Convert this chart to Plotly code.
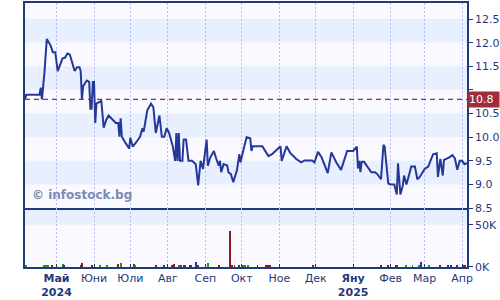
import plotly.graph_objects as go

# ---------------- data ----------------
price_dates = [
    "2024-04-05", "2024-04-06", "2024-04-17", "2024-04-18", "2024-04-19", "2024-04-21",
    "2024-04-23", "2024-04-26", "2024-04-28", "2024-04-30", "2024-05-02", "2024-05-04",
    "2024-05-06", "2024-05-08", "2024-05-10", "2024-05-12", "2024-05-16", "2024-05-18",
    "2024-05-20", "2024-05-21", "2024-05-22", "2024-05-23", "2024-05-26", "2024-05-28",
    "2024-05-29", "2024-05-30", "2024-05-31", "2024-06-01", "2024-06-02", "2024-06-03",
    "2024-06-06", "2024-06-07", "2024-06-09", "2024-06-11", "2024-06-13", "2024-06-15",
    "2024-06-19", "2024-06-21", "2024-06-22", "2024-06-23", "2024-06-24", "2024-06-27",
    "2024-06-30", "2024-07-01", "2024-07-03", "2024-07-06", "2024-07-09", "2024-07-11",
    "2024-07-12", "2024-07-15", "2024-07-18", "2024-07-20", "2024-07-22", "2024-07-25",
    "2024-07-27", "2024-07-29", "2024-07-31", "2024-08-02", "2024-08-05", "2024-08-07",
    "2024-08-08", "2024-08-09", "2024-08-10", "2024-08-11", "2024-08-13", "2024-08-14",
    "2024-08-16", "2024-08-18", "2024-08-21", "2024-08-24", "2024-08-26", "2024-08-28",
    "2024-08-30", "2024-09-02", "2024-09-03", "2024-09-05", "2024-09-08", "2024-09-10",
    "2024-09-12", "2024-09-13", "2024-09-14", "2024-09-16", "2024-09-19", "2024-09-20",
    "2024-09-22", "2024-09-24", "2024-09-27", "2024-09-29", "2024-09-30", "2024-10-03",
    "2024-10-05", "2024-10-08", "2024-10-09", "2024-10-10", "2024-10-18", "2024-10-23",
    "2024-10-26", "2024-11-02", "2024-11-03", "2024-11-07", "2024-11-10", "2024-11-15",
    "2024-11-19", "2024-11-22", "2024-11-28", "2024-11-30", "2024-12-03", "2024-12-06",
    "2024-12-11", "2024-12-14", "2024-12-18", "2024-12-22", "2024-12-27", "2025-01-01",
    "2025-01-04", "2025-01-05", "2025-01-06", "2025-01-07", "2025-01-08", "2025-01-10",
    "2025-01-16", "2025-01-19", "2025-01-21", "2025-01-24", "2025-01-26", "2025-01-27",
    "2025-01-30", "2025-02-01", "2025-02-04", "2025-02-06", "2025-02-07", "2025-02-09",
    "2025-02-11", "2025-02-12", "2025-02-14", "2025-02-18", "2025-02-21", "2025-02-23",
    "2025-02-25", "2025-03-01", "2025-03-04", "2025-03-08", "2025-03-11", "2025-03-12",
    "2025-03-14", "2025-03-16", "2025-03-17", "2025-03-21", "2025-03-24", "2025-03-26",
    "2025-03-28", "2025-03-30", "2025-04-01", "2025-04-03", "2025-04-05",
]
price_values = [
    10.8, 10.9, 10.9, 11.05, 10.8, 11.35,
    12.08, 11.95, 11.8, 11.8, 11.4, 11.53,
    11.67, 11.68, 11.77, 11.75, 11.4, 11.48,
    11.48, 11.4, 10.8, 11.08, 11.2, 11.17,
    10.6, 10.6, 11.17, 11.17, 10.3, 10.71,
    10.77, 10.77, 10.2, 10.36, 10.46, 10.4,
    10.3, 10.3, 10.01, 10.4, 10.01, 9.88,
    9.76, 9.99, 9.8, 9.9, 10.01, 10.19,
    10.12, 10.57, 10.71, 10.63, 10.09, 10.46,
    10.01, 10.01, 10.19, 10.09, 9.81, 9.5,
    10.09, 9.5, 10.09, 9.5, 9.5, 9.95,
    9.95, 9.5, 9.5, 9.43, 8.98, 9.5,
    9.33, 9.95, 9.4, 9.57, 9.71, 9.54,
    9.4, 9.5, 9.26, 9.43, 9.4, 9.26,
    9.22, 9.05, 9.3, 9.64, 9.47, 9.8,
    10.0, 9.98, 9.71, 9.81, 9.81, 9.6,
    9.64, 9.81, 9.5, 9.81, 9.67, 9.54,
    9.47, 9.51, 9.51, 9.47, 9.69, 9.57,
    9.24, 9.68, 9.47, 9.31, 9.71, 9.71,
    9.8, 9.34, 9.5, 9.26, 9.48, 9.48,
    9.26, 9.26, 9.22, 9.11, 9.84, 9.8,
    9.02, 9.0, 9.0, 8.79, 9.45, 8.79,
    8.98, 9.19, 9.0, 9.38, 9.38, 9.11,
    9.16, 9.33, 9.38, 9.64, 9.66, 9.16,
    9.54, 9.19, 9.52, 9.57, 9.62, 9.55,
    9.31, 9.5, 9.5, 9.43, 9.45,
]

vol_dates = [
    "2024-04-06", "2024-04-21", "2024-04-22", "2024-04-24", "2024-04-27", "2024-05-06",
    "2024-05-07", "2024-05-21", "2024-05-22", "2024-05-30", "2024-06-06", "2024-06-12",
    "2024-06-21", "2024-06-23", "2024-07-04", "2024-07-05", "2024-07-22", "2024-07-29",
    "2024-08-04", "2024-08-06", "2024-08-10", "2024-08-11", "2024-08-12", "2024-08-14",
    "2024-08-15", "2024-08-19", "2024-08-20", "2024-08-24", "2024-08-26", "2024-09-03",
    "2024-09-12", "2024-09-21", "2024-09-23", "2024-09-25", "2024-09-29", "2024-10-02",
    "2024-10-04", "2024-10-06", "2024-10-14", "2024-10-21", "2024-10-23", "2024-10-24",
    "2024-11-29", "2025-01-24", "2025-01-30", "2025-02-05", "2025-02-06", "2025-02-14",
    "2025-02-19", "2025-02-24", "2025-02-26", "2025-03-05", "2025-03-14", "2025-03-20",
    "2025-03-23", "2025-03-28", "2025-04-02", "2025-04-03",
]
vol_values = [
    2700, 1500, 1500, 1500, 1500, 3500,
    2000, 1500, 4700, 1500, 1500, 1500,
    3500, 4700, 3500, 1500, 1500, 1500,
    1500, 3500, 1500, 2700, 1500, 2300,
    2700, 1500, 2700, 5800, 2700, 5000,
    1500, 42000, 1500, 2700, 1500, 1500,
    1500, 1500, 1500, 1500, 1500, 1500,
    1500, 1500, 1500, 1500, 1500, 1500,
    1500, 1500, 5800, 1500, 1500, 1500,
    2700, 2700, 2700, 1500,
]
vol_dir = [
    "g", "g", "g", "g", "r", "g",
    "b", "r", "r", "r", "g", "g",
    "r", "g", "r", "g", "r", "b",
    "r", "r", "g", "g", "r", "b",
    "b", "r", "r", "b", "r", "g",
    "r", "r", "r", "r", "b", "g",
    "g", "g", "b", "r", "r", "r",
    "r", "r", "r", "r", "r", "g",
    "g", "g", "b", "g", "r", "b",
    "b", "r", "r", "r",
]

month_ticks = ["2024-05-01", "2024-06-01", "2024-07-01", "2024-08-01", "2024-09-01",
               "2024-10-01", "2024-11-01", "2024-12-01", "2025-01-01", "2025-02-01",
               "2025-03-01", "2025-04-01"]
month_labels = ["<b>Май</b><br><b>2024</b>", "Юни", "Юли", "Авг", "Сеп", "Окт", "Ное",
                "Дек", "<b>Яну</b><br><b>2025</b>", "Фев", "Мар", "Апр"]

price_ticks = [8.5, 9.0, 9.5, 10.0, 10.5, 11.0, 11.5, 12.0, 12.5]
price_tick_labels = ["8.5", "9.0", "9.5", "10.0", "10.5", "", "11.5", "12.0", "12.5"]
vol_ticks = [0, 50000]
vol_tick_labels = ["0K", "50K"]

last_price = 10.8
price_bands = [(9.0, 9.5), (10.0, 10.5), (11.0, 11.5), (12.0, 12.5)]
vol_bands = [(50000, 70000)]

# ---------------- style ----------------
NAVY = "#1f3a7a"
LINE = "#24389a"
GRID = "#b9b9f5"
BAND = "#e8effe"
BG = "#f9f9ff"
RED = "#a12c3c"
dir_colors = {"r": "#8c1c24", "g": "#2e8b2e", "b": "#24389a"}
FONT = "DejaVu Sans"

x_range = ["2024-04-05", "2025-04-05"]
price_range = [8.5, 12.84]
vol_range = [0, 69800]
split = 0.223

fig = go.Figure()

fig.add_trace(go.Scatter(
    x=price_dates, y=price_values, mode="lines",
    line=dict(color=LINE, width=2), xaxis="x", yaxis="y",
    hoverinfo="skip", showlegend=False,
))

fig.add_trace(go.Bar(
    x=vol_dates, y=vol_values, marker=dict(color=[dir_colors[d] for d in vol_dir], line=dict(width=0)),
    width=0.8 * 86400000, xaxis="x2", yaxis="y2", hoverinfo="skip", showlegend=False,
))

shapes = []
for lo, hi in price_bands:
    shapes.append(dict(type="rect", xref="x domain", yref="y", x0=0, x1=1, y0=lo, y1=hi,
                       fillcolor=BAND, line=dict(width=0), layer="below"))
for lo, hi in vol_bands:
    shapes.append(dict(type="rect", xref="x2 domain", yref="y2", x0=0, x1=1, y0=lo, y1=hi,
                       fillcolor=BAND, line=dict(width=0), layer="below"))
shapes.append(dict(type="line", xref="x domain", yref="y", x0=0, x1=1, y0=last_price, y1=last_price,
                   line=dict(color=RED, width=1.2, dash="5px,4px")))

annotations = [
    dict(xref="paper", yref="y", x=1, y=last_price, xanchor="left", yanchor="middle",
         text=f"{last_price:.1f}", showarrow=False, bgcolor=RED,
         font=dict(family=FONT, size=11, color="white"),
         borderpad=1, xshift=0, width=29, align="left"),
    dict(xref="paper", yref="y", x=0, y=8.77, xanchor="left", yanchor="middle",
         text="<b>© infostock.bg</b>", showarrow=False, xshift=5,
         font=dict(family=FONT, size=12, color="#7b8bb2")),
]

common_x = dict(
    type="date", range=x_range, tickvals=month_ticks, showgrid=True,
    gridcolor=GRID, griddash="2px,2px", gridwidth=1,
    showline=True, linecolor=NAVY, linewidth=1.5,
    zeroline=False,
)

fig.update_layout(
    width=500, height=300,
    margin=dict(l=25, r=31, t=1, b=30),
    paper_bgcolor="white", plot_bgcolor=BG,
    font=dict(family=FONT, size=11, color=NAVY),
    showlegend=False, bargap=0,
    xaxis=dict(**common_x, anchor="y", showticklabels=False, ticks="", mirror=True),
    xaxis2=dict(**common_x, anchor="y2", matches="x", ticktext=month_labels, mirror=False,
                ticks="inside", ticklen=3, tickcolor=NAVY, tickwidth=1,
                tickfont=dict(family=FONT, size=11, color=NAVY)),
    yaxis=dict(domain=[split, 1], range=price_range, side="right", tickvals=price_ticks,
               ticktext=price_tick_labels, ticks="outside", ticklen=4, tickcolor=NAVY,
               showgrid=False, zeroline=False, showline=True, linecolor=NAVY, linewidth=1.5,
               mirror=True, tickfont=dict(family=FONT, size=11, color=NAVY)),
    yaxis2=dict(domain=[0, split], range=vol_range, side="right", tickvals=vol_ticks,
                ticktext=vol_tick_labels, ticks="outside", ticklen=4, tickcolor=NAVY,
                showgrid=False, zeroline=False, showline=True, linecolor=NAVY, linewidth=1.5,
                mirror=True, tickfont=dict(family=FONT, size=11, color=NAVY)),
    shapes=shapes,
    annotations=annotations,
)

fig.write_html("out.html")
